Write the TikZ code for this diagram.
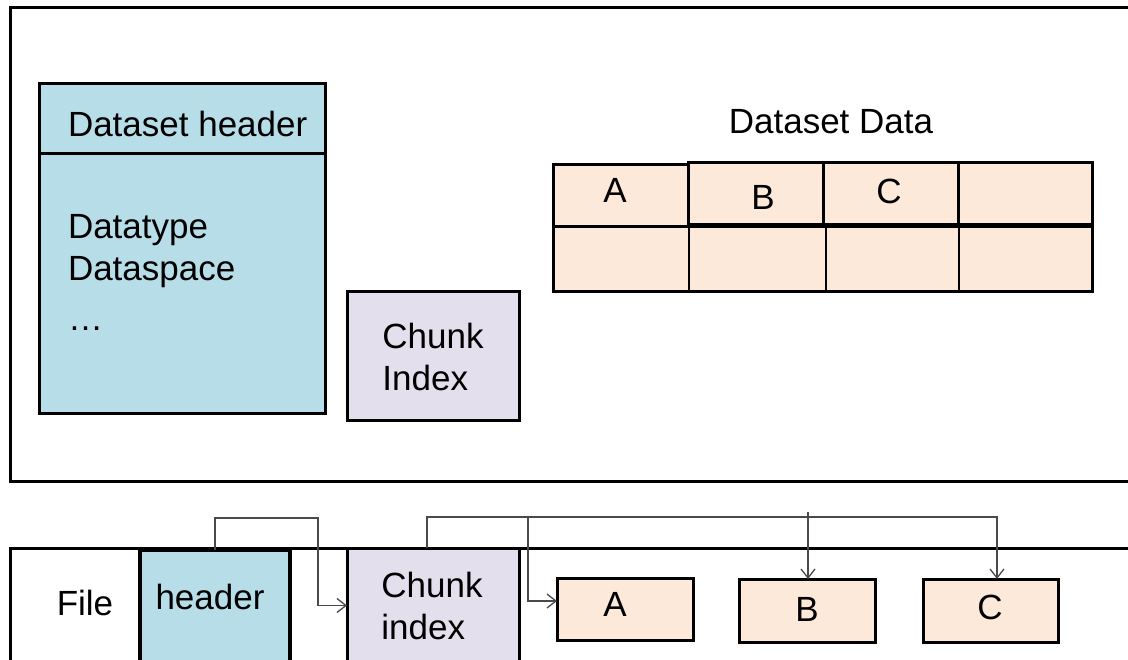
\documentclass[tikz,border=0pt]{standalone}
\usepackage{fontspec}
\setmainfont{Liberation Sans}
\usetikzlibrary{arrows.meta}
\definecolor{hdrblue}{HTML}{B7DEE8}
\definecolor{idxlav}{HTML}{E4DFEC}
\definecolor{chunkpeach}{HTML}{FDE9D9}
\definecolor{linkgray}{HTML}{4A4A4A}
\tikzset{
  frame/.style={draw=black, line width=3pt},
  boxbase/.style={draw=black, line width=3pt, inner sep=0pt, outer sep=0pt},
  hdrbox/.style={boxbase, fill=hdrblue},
  idxbox/.style={boxbase, fill=idxlav},
  chunkbox/.style={boxbase, fill=chunkpeach},
  label/.style={inner sep=0pt, outer sep=0pt},
  gridline/.style={draw=black, line width=1.2pt},
  link/.style={draw=linkgray, line width=1.3pt,
    -{Straight Barb[length=9pt, width=14pt, line width=1.3pt]}},
}
\begin{document}
\begin{tikzpicture}[x=1pt, y=-1pt, font=\fontsize{35}{42}\selectfont]
\useasboundingbox[fill=white] (0,0) rectangle (1128,660);

% ---- dataset object ----
\draw[frame] (1128,8) -- (10,8) -- (10,481) -- (1128,481);

\node[hdrbox, minimum width=286pt, minimum height=70pt] (dshead) at (182,119) {};
\node[hdrbox, minimum width=286pt, minimum height=260pt, anchor=north] (dsbody) at (dshead.south) {};
\node[label, anchor=base west] (tdshead) at (68,137) {Dataset header};
\node[label, anchor=base west] (tdtype) at (68,239) {Datatype};
\node[label, anchor=base west] (tdspace) at (68,281) {Dataspace};
\node[label, anchor=base west] (tdots) at (68,331) {\dots};

\node[idxbox, minimum width=172pt, minimum height=129pt, align=left] (cidx) at (433,356.5)
  {Chunk\\Index};

\node[label] (tdata) at (831,122) {Dataset Data};

% data grid: lower row
\node[chunkbox, minimum width=539pt, minimum height=65pt] (rowlow) at (822.5,259.5) {};
\draw[gridline] (689,227) -- (689,292);
\draw[gridline] (826,227) -- (826,292);
\draw[gridline] (959,227) -- (959,292);
% data grid: upper row (chunks)
\node[chunkbox, minimum width=135pt, minimum height=62pt] (cA) at (620.5,196) {};
\node[chunkbox, minimum width=135pt, minimum height=62pt] (cB) at (755.5,194) {};
\node[chunkbox, minimum width=135pt, minimum height=62pt] (cC) at (890.5,194) {};
\node[chunkbox, minimum width=134pt, minimum height=62pt] (cD) at (1025,194) {};
\node[label] (tcA) at (615,190) {A};
\node[label] (tcB) at (763,197) {B};
\node[label] (tcC) at (889,191) {C};

% ---- file layout ----
\draw[frame] (1128,548) -- (10,548) -- (10,662);
\node[label] (tfile) at (85,603) {File};
\node[hdrbox, line width=4pt, minimum width=150pt, minimum height=124pt] (fhdr) at (215,612) {};
\node[label] (tfhdr) at (210,597) {header};
\node[idxbox, minimum width=172pt, minimum height=124pt] (fidx) at (433,610) {};
\node[label, align=left] (tfidx) at (432,606) {Chunk\\index};
\node[chunkbox, minimum width=136pt, minimum height=62pt] (fA) at (625,609) {};
\node[chunkbox, minimum width=136pt, minimum height=63pt] (fB) at (807,610.5) {};
\node[chunkbox, minimum width=135pt, minimum height=63pt] (fC) at (990.5,610.5) {};
\node[label] (tfA) at (615,604) {A};
\node[label] (tfB) at (807,609) {B};
\node[label] (tfC) at (990,607) {C};

% ---- links ----
\coordinate (bsrc) at (808,512);
\draw[link] (fhdr.north) |- (318,518) |- ([yshift=4.5pt]fidx.west);
\draw[link] ([xshift=-6pt]fidx.north) |- (997,517) -- (997,579);
\draw[link] (528,517) |- ([yshift=8pt]fA.west);
\draw[link] (bsrc) -- (bsrc |- fB.north);
\end{tikzpicture}
\end{document}
